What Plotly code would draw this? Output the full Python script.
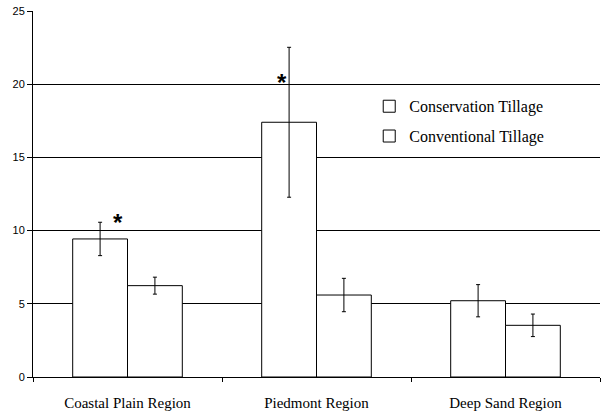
import plotly.graph_objects as go

regions = ["Coastal Plain Region", "Piedmont Region", "Deep Sand Region"]
conservation = [9.43, 17.40, 5.21]
conservation_err = [1.14, 5.12, 1.10]
conventional = [6.24, 5.60, 3.53]
conventional_err = [0.58, 1.14, 0.77]
y_ticks = [0, 5, 10, 15, 20, 25]

# significance markers: (region, y position, horizontal offset in px)
stars = [("Coastal Plain Region", 10.95, -10), ("Piedmont Region", 20.5, -35)]

serif = "Times New Roman"
sans = "Liberation Sans"

fig = go.Figure()
fig.add_trace(go.Bar(
    x=regions, y=conservation, name="Conservation Tillage",
    legendgroup="a",
    marker=dict(color="white", line=dict(color="black", width=1)),
    error_y=dict(type="data", array=conservation_err, color="black",
                 thickness=1, width=2),
))
fig.add_trace(go.Bar(
    x=regions, y=conventional, name="Conventional Tillage",
    legendgroup="b",
    marker=dict(color="white", line=dict(color="black", width=1)),
    error_y=dict(type="data", array=conventional_err, color="black",
                 thickness=1, width=2),
))

for region, yv, dx in stars:
    fig.add_annotation(x=region, y=yv, text="<b>*</b>", showarrow=False,
                       xshift=dx, yshift=-6,
                       font=dict(family=sans, size=24, color="black"))

fig.update_layout(
    width=604, height=419,
    margin=dict(l=33, r=4, t=11, b=42),
    paper_bgcolor="white", plot_bgcolor="white",
    barmode="group", bargap=0.42, bargroupgap=0,
    showlegend=True,
    legend=dict(x=0.593, y=0.786, xanchor="left", yanchor="top",
                bgcolor="rgba(0,0,0,0)", borderwidth=0,
                font=dict(family=serif, size=16, color="black"),
                tracegroupgap=6, itemwidth=30),
    xaxis=dict(
        showline=True, linecolor="black", linewidth=1,
        ticks="outside", ticklen=4, tickcolor="black",
        tickson="boundaries", showgrid=False,
        ticklabelstandoff=12, automargin=False,
        tickfont=dict(family=serif, size=15, color="black"),
    ),
    yaxis=dict(
        range=[0, 25], tickvals=y_ticks,
        showline=True, linecolor="black", linewidth=1,
        ticks="outside", ticklen=5, tickcolor="black",
        showgrid=True, gridcolor="black", gridwidth=1,
        zeroline=False,
        tickfont=dict(family=sans, size=11, color="black"),
    ),
)

fig.write_html("out.html")
